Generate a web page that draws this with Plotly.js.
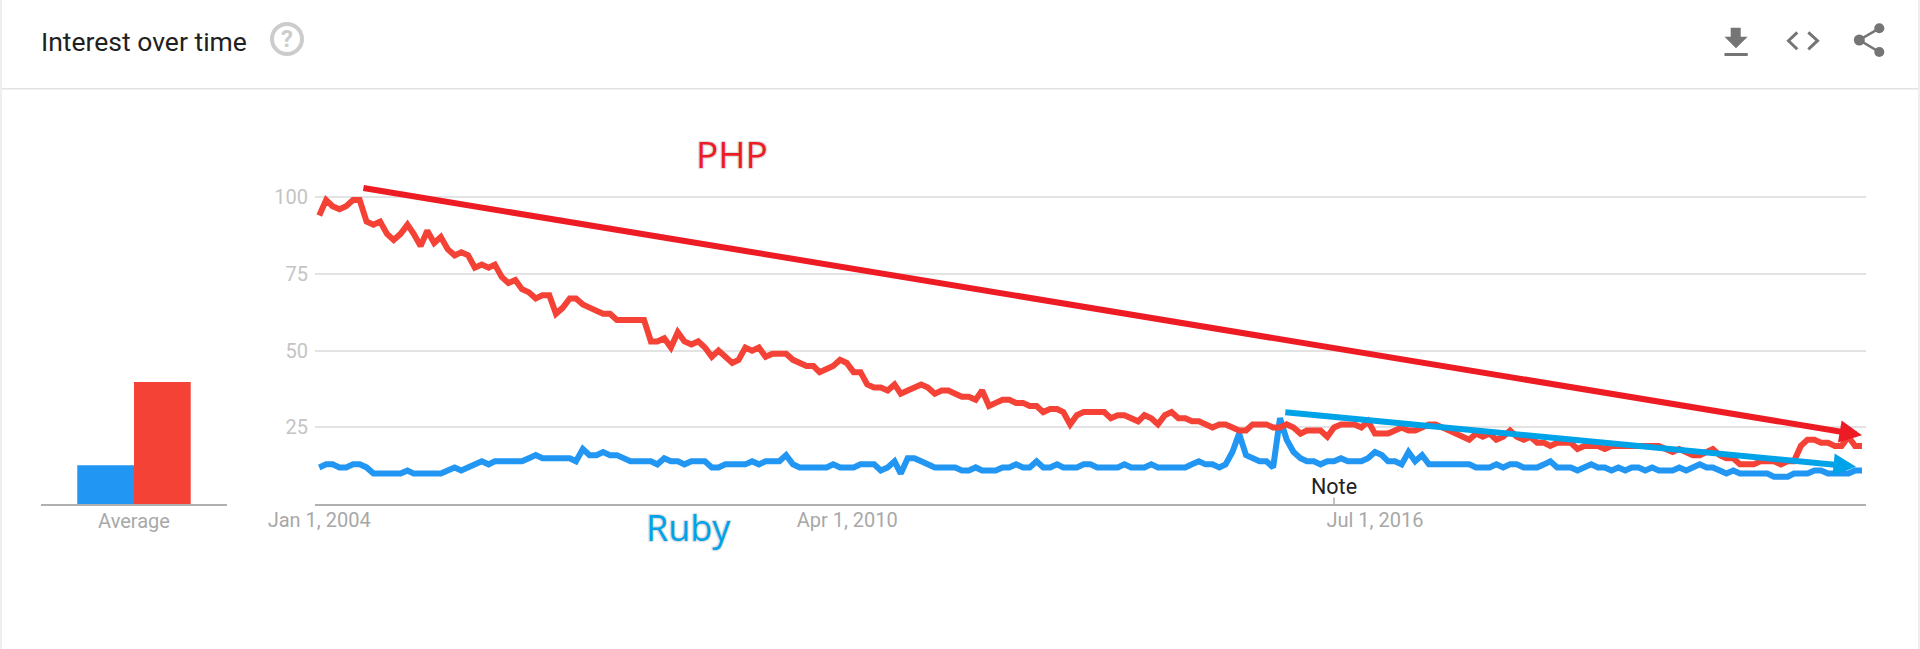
<!DOCTYPE html>
<html>
<head>
<meta charset="utf-8">
<script src="https://cdn.plot.ly/plotly-3.0.1.min.js"></script>
<style>html,body{margin:0;padding:0;background:#fff;overflow:hidden}</style>
</head>
<body>
<div id="chart" style="width:1920px;height:649px"></div>
<script>
const seriesNames = ['Ruby', 'PHP'];
const rubyValues = [
12,13,13,12,12,13,13,12,10,10,
10,10,10,11,10,10,10,10,10,11,
12,11,12,13,14,13,14,14,14,14,
14,15,16,15,15,15,15,15,14,18,
16,16,17,16,16,15,14,14,14,14,
13,15,14,14,13,14,14,14,12,12,
13,13,13,13,14,13,14,14,14,16,
13,12,12,12,12,12,13,12,12,12,
13,13,13,11,12,14,10,15,15,14,
13,12,12,12,12,11,11,12,11,11,
11,12,12,13,12,12,14,12,12,13,
12,12,12,13,13,12,12,12,12,13,
12,12,12,13,12,12,12,12,12,13,
14,13,13,12,13,17,23,16,15,14,
14,12,28,21,17,15,14,14,13,14,
14,15,14,14,14,15,17,16,14,14,
13,17,14,16,13,13,13,13,13,13,
13,12,12,12,13,12,13,13,12,12,
12,13,14,12,12,12,11,12,13,12,
12,11,12,11,12,12,11,12,11,11,
11,12,11,12,13,12,12,11,10,11,
10,10,10,10,10,9,9,9,10,10,
10,11,11,10,10,10,10,11,11];
const phpValues = [
94,99,97,96,97,99,99,92,91,92,
88,86,88,91,88,84,89,85,87,83,
81,82,81,77,78,77,78,74,72,73,
70,69,67,68,68,62,64,67,67,65,
64,63,62,62,60,60,60,60,60,53,
53,54,51,56,53,52,53,51,48,50,
48,46,47,51,50,51,48,49,49,49,
47,46,45,45,43,44,45,47,46,43,
43,39,38,38,37,39,36,37,38,39,
38,36,37,37,36,35,35,34,37,32,
33,34,34,33,33,32,32,30,31,31,
30,26,29,30,30,30,30,28,29,29,
28,27,29,28,26,29,30,28,28,27,
27,26,25,26,26,25,24,24,26,26,
26,25,25,26,25,23,24,24,24,22,
25,26,26,26,25,27,23,23,23,24,
25,24,24,25,26,26,25,24,23,22,
21,23,22,23,21,22,24,22,21,22,
20,20,19,20,20,20,18,19,19,19,
18,19,19,19,19,19,19,19,19,18,
17,18,17,16,16,17,18,16,15,15,
13,13,13,14,14,14,13,14,14,19,
21,21,20,20,19,19,22,19,19];
const averageValues = [12.7, 39.8];
const averageLabel = 'Average';
const yTicks = [25, 50, 75, 100];
const xTickDates = ['2004-01-01', '2010-07-03', '2017-01-01'];
const xTickLabels = ['Jan 1, 2004', 'Apr 1, 2010', 'Jul 1, 2016'];
const noteDate = '2016-07-01';
const noteText = 'Note';
const chartTitle = 'Interest over time';
const trendPhp = {from: ['2004-07-11', 103], to: ['2023-01-01', 22.5]};
const trendRuby = {from: ['2015-11-18', 30], to: ['2022-12-05', 12.2]};
const colors = {ruby: '#2196F3', php: '#F44336', phpNote: '#ED1C24', rubyNote: '#00A2E8',
  grid: '#e3e3e3', axis: '#b0b0b0', yText: '#c4c4c4', xText: '#a8a8a8', icon: '#757575'};

const W = 1920, H = 649;
const dates = rubyValues.map((_, i) => {
  const y = 2004 + Math.floor(i / 12), m = i % 12 + 1;
  return y + '-' + String(m).padStart(2, '0') + '-01';
});
const px = x => x / W, py = y => 1 - y / H;
const path = s => s.replace(/(-?[\d.]+),(-?[\d.]+)/g, (_, a, b) => px(+a) + ',' + py(+b));
const chrome = (d, fill, lw, lc) => ({type: 'path', xref: 'paper', yref: 'paper', path: path(d),
  fillcolor: fill || 'rgba(0,0,0,0)', line: {width: lw || 0, color: lc || 'rgba(0,0,0,0)'}, layer: 'above'});
const circle = (cx, cy, r, fill, lw, lc) => ({type: 'circle', xref: 'paper', yref: 'paper',
  x0: px(cx - r), x1: px(cx + r), y0: py(cy + r), y1: py(cy - r),
  fillcolor: fill, line: {width: lw || 0, color: lc || 'rgba(0,0,0,0)'}, layer: 'above'});

const data = [
  {type: 'scatter', mode: 'lines', x: dates, y: rubyValues, name: seriesNames[0], line: {color: colors.ruby, width: 6}, hoverinfo: 'skip'},
  {type: 'scatter', mode: 'lines', x: dates, y: phpValues, name: seriesNames[1], line: {color: colors.php, width: 6}, hoverinfo: 'skip'},
  {type: 'bar', x: [averageLabel], y: [averageValues[0]], xaxis: 'x2', yaxis: 'y2', marker: {color: colors.ruby}, hoverinfo: 'skip'},
  {type: 'bar', x: [averageLabel], y: [averageValues[1]], xaxis: 'x2', yaxis: 'y2', marker: {color: colors.php}, hoverinfo: 'skip'}
];

const tickFontY = {family: 'Roboto', size: 20, color: colors.yText};
const tickFontX = {family: 'Roboto', size: 20, color: colors.xText};
const yDomain = [py(504.3), py(135.5)];

const arrow = (t, color) => ({
  xref: 'x', yref: 'y', axref: 'x', ayref: 'y', x: t.to[0], y: t.to[1], ax: t.from[0], ay: t.from[1],
  text: '', showarrow: true, arrowhead: 2, arrowsize: 0.75, arrowwidth: 6, arrowcolor: color, standoff: 0
});
const halo = '1px 1px 1px #dedede, -1px -1px 1px #dedede, 1px -1px 1px #dedede, -1px 1px 1px #dedede';

const layout = {
  width: W, height: H, autosize: false,
  margin: {l: 0, r: 0, t: 0, b: 0, pad: 0},
  paper_bgcolor: '#fff', plot_bgcolor: 'rgba(0,0,0,0)',
  showlegend: false, barmode: 'group', bargap: 0.39, bargroupgap: 0,
  xaxis: {domain: [px(315), px(1866)], type: 'date', range: ['2003-12-13', '2023-01-19'],
    tickmode: 'array', tickvals: xTickDates, ticktext: xTickLabels, tickfont: tickFontX,
    showgrid: false, showline: true, linecolor: colors.axis, linewidth: 2, ticks: '', zeroline: false, fixedrange: true, ticklabelstandoff: -3},
  yaxis: {domain: yDomain, range: [0, 120], tickmode: 'array', tickvals: yTicks, tickfont: tickFontY,
    showgrid: true, gridcolor: colors.grid, gridwidth: 2, zeroline: false, ticks: '', showline: false, fixedrange: true, ticklabelstandoff: 6},
  xaxis2: {domain: [px(41), px(227)], anchor: 'y2', type: 'category', tickfont: tickFontX,
    showgrid: false, showline: true, linecolor: colors.axis, linewidth: 2, ticks: '', fixedrange: true, ticklabelstandoff: -2},
  yaxis2: {domain: yDomain, anchor: 'x2', range: [0, 120], visible: false, fixedrange: true},
  shapes: [
    {type: 'line', xref: 'x', yref: 'y', x0: noteDate, x1: noteDate, y0: 0, y1: 2.2, line: {color: colors.axis, width: 1.5}},
    chrome('M0,88.8 L1920,88.8', null, 1.5, '#e2e2e2'),
    chrome('M1,0 L1,649', null, 2, '#eeeeee'),
    chrome('M1919,0 L1919,649', null, 2, '#eeeeee'),
    circle(287, 39, 15, 'rgba(0,0,0,0)', 4, '#cccccc'),
    chrome('M1730.7,27.7 L1740.7,27.7 L1740.7,36.7 L1747.7,36.7 L1736,48.3 L1724.5,36.7 L1730.7,36.7 Z', colors.icon),
    chrome('M1724.5,53 L1747.7,53 L1747.7,56 L1724.5,56 Z', colors.icon),
    chrome('M1797.3,32.3 L1788.5,40.7 L1797.3,49.3', null, 3, colors.icon),
    chrome('M1808.3,32.3 L1817.5,40.7 L1808.3,49.3', null, 3, colors.icon),
    chrome('M1879.3,28.3 L1859.3,40 L1879.3,52', null, 2.6, colors.icon),
    circle(1879.3, 28.3, 5, colors.icon),
    circle(1879.3, 52, 5, colors.icon),
    circle(1859.3, 40, 5.5, colors.icon)
  ],
  annotations: [
    arrow(trendPhp, colors.phpNote),
    arrow(trendRuby, colors.rubyNote),
    {xref: 'paper', yref: 'paper', x: px(39), y: py(41), xanchor: 'left', yanchor: 'middle', showarrow: false,
      text: chartTitle, font: {family: 'Roboto', size: 26.5, color: '#212121'}},
    {xref: 'paper', yref: 'paper', x: px(287), y: py(39), xanchor: 'center', yanchor: 'middle', showarrow: false,
      text: '<b>?</b>', font: {family: 'Roboto', size: 24, color: '#cccccc'}},
    {xref: 'x', yref: 'paper', x: noteDate, y: py(486), xanchor: 'center', yanchor: 'middle', showarrow: false,
      text: noteText, font: {family: 'Roboto', size: 21.5, color: '#212121'}},
    {xref: 'paper', yref: 'paper', x: px(732), y: py(153), xanchor: 'center', yanchor: 'middle', showarrow: false,
      text: seriesNames[1], font: {family: 'Open Sans', size: 37, color: colors.phpNote, shadow: halo}},
    {xref: 'paper', yref: 'paper', x: px(688), y: py(527), xanchor: 'center', yanchor: 'middle', showarrow: false,
      text: seriesNames[0], font: {family: 'Open Sans', size: 36, color: colors.rubyNote, shadow: halo}}
  ]
};

Plotly.newPlot('chart', data, layout, {displayModeBar: false, staticPlot: true});
</script>
</body>
</html>
